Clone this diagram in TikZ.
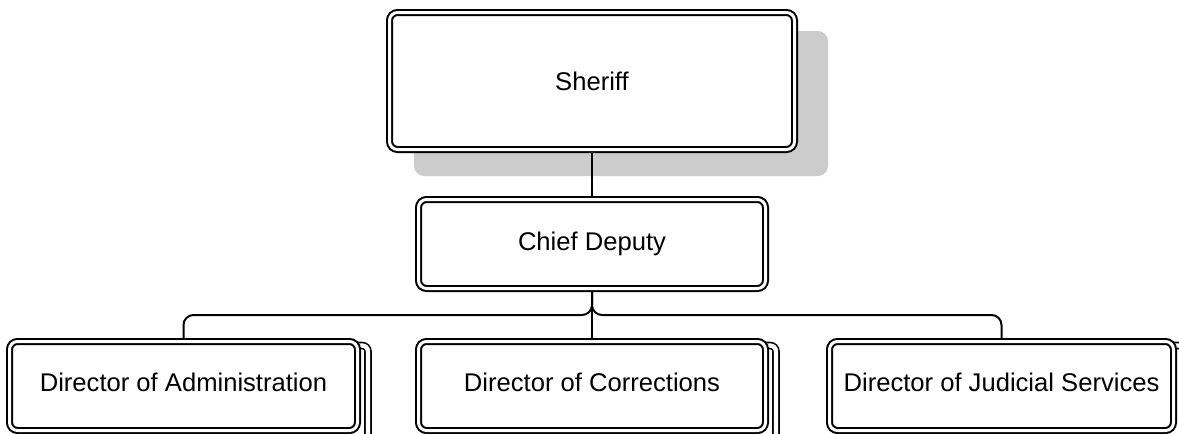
\documentclass[tikz,border=0pt]{standalone}
\usepackage{fontspec}
\setmainfont{Liberation Sans}
\usetikzlibrary{positioning, backgrounds}
\definecolor{shadowgray}{HTML}{CCCCCC}
\tikzset{
  orgbox/.style={draw=black, line width=1pt, double=white, double distance=1.5pt,
    fill=white, rounded corners=4pt, outer sep=1.75pt, inner sep=2pt,
    font=\fontsize{12.8}{15}\selectfont},
  lowbox/.style={orgbox, minimum height=44.5pt, text depth=4pt},
  stackbox/.style={draw=black, line width=0.8pt, double=white, double distance=2.2pt,
    fill=white, rounded corners=3pt},
  link/.style={draw=black, line width=1pt, rounded corners=5pt}
}

\begin{document}
\begin{tikzpicture}[x=0.5pt, y=-0.5pt]

\useasboundingbox (0,0) rectangle (1179,434);
\clip (0,0) rectangle (1179,434);

% Boxes
\node[orgbox, minimum width=202.5pt, minimum height=68.5pt] (sheriff) at (592,81) {Sheriff};
\node[orgbox, minimum width=173.5pt, minimum height=44.5pt] (chief) at (592,244) {Chief Deputy};
\node[lowbox, minimum width=174pt] (admin) at (183.5,386) {Director of Administration};
\node[lowbox, minimum width=173.5pt] (corrections) at (592,386) {Director of Corrections};
\node[lowbox, minimum width=172pt] (judicial) at (1001.5,386) {Director of Judicial Services};

% Shadow and stacked copies behind the boxes
\begin{scope}[on background layer]
  \fill[shadowgray, rounded corners=5pt] ([shift={(28,22)}]sheriff.north west) rectangle ([shift={(30,23)}]sheriff.south east);
  \foreach \n in {admin, corrections, judicial}
    \draw[stackbox] ([shift={(14,7.5)}]\n.north west) rectangle ([shift={(7,20)}]\n.south east);
\end{scope}

% Connectors
\coordinate (bus) at (592,315);
\draw[link] (sheriff) -- (chief);
\draw[link] (chief.south) |- (bus -| admin.north) -- (admin.north);
\draw[link] (chief) -- (corrections);
\draw[link] (chief.south) |- (bus -| judicial.north) -- (judicial.north);

\end{tikzpicture}
\end{document}
